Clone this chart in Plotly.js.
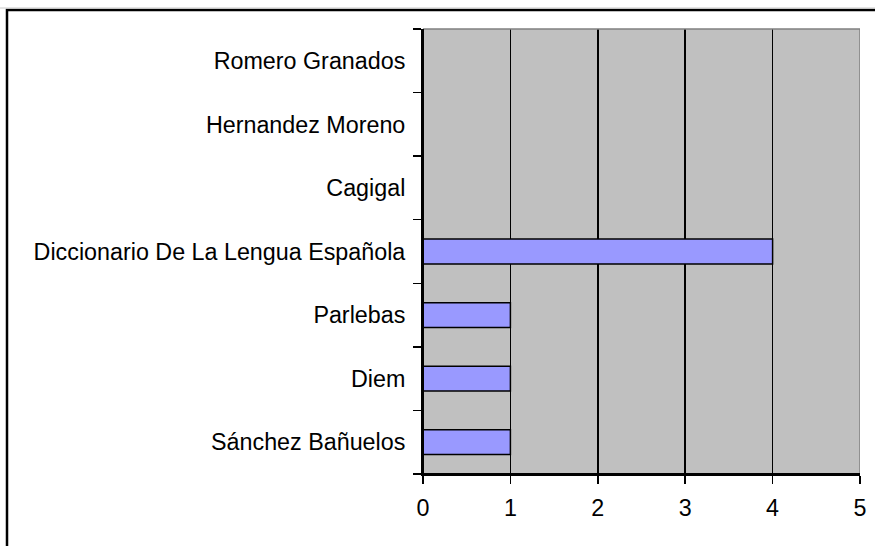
<!DOCTYPE html>
<html>
<head>
<meta charset="utf-8">
<script src="https://cdn.plot.ly/plotly-3.0.1.min.js"></script>
<style>html,body{margin:0;padding:0;background:#fff;}#chart{width:875px;height:546px;}</style>
</head>
<body>
<div id="chart"></div>
<script>
const categories = ["Sánchez Bañuelos", "Diem", "Parlebas", "Diccionario De La Lengua Española", "Cagigal", "Hernandez Moreno", "Romero Granados"];
const values = [1, 1, 1, 4, 0, 0, 0];
const xTicks = [0, 1, 2, 3, 4, 5];

const trace = {
  type: "bar",
  orientation: "h",
  x: values,
  y: categories,
  marker: { color: "#9999FF", line: { color: "#000000", width: 1.5 } },
  hoverinfo: "skip"
};

const font = { family: "Liberation Sans, Arial, sans-serif", size: 23.3, color: "#000" };

const layout = {
  width: 875,
  height: 546,
  margin: { l: 423, r: 15, t: 29, b: 72, pad: 0 },
  paper_bgcolor: "#ffffff",
  plot_bgcolor: "#C0C0C0",
  showlegend: false,
  bargap: 0.61,
  font: font,
  xaxis: {
    range: [0, 5],
    tickvals: xTicks,
    ticktext: xTicks.map(String),
    showgrid: true,
    gridcolor: "#000000",
    gridwidth: 1.5,
    zeroline: false,
    showline: true,
    linecolor: "#000000",
    linewidth: 2,
    ticks: "outside",
    ticklen: 8,
    tickwidth: 1.5,
    tickcolor: "#000000",
    ticklabelstandoff: 4,
    tickfont: font,
    fixedrange: true
  },
  yaxis: {
    type: "category",
    categoryorder: "array",
    categoryarray: categories,
    range: [-0.5, 6.5],
    tickson: "boundaries",
    showgrid: false,
    zeroline: false,
    showline: true,
    linecolor: "#000000",
    linewidth: 2,
    ticks: "outside",
    ticklen: 8,
    tickwidth: 1.5,
    tickcolor: "#000000",
    ticklabelstandoff: 11,
    tickfont: font,
    fixedrange: true
  },
  shapes: [
    { type: "rect", xref: "x", yref: "paper", x0: 0, x1: 5, y0: 0, y1: 1,
      line: { color: "#808080", width: 1.5 }, fillcolor: "rgba(0,0,0,0)", layer: "above" },
    { type: "line", xref: "paper", yref: "paper", x0: 0, x1: 0, y0: 0, y1: 1,
      line: { color: "#000000", width: 2 }, layer: "above" },
    { type: "line", xref: "paper", yref: "paper", x0: 0, x1: 1, y0: 0, y1: 0,
      line: { color: "#000000", width: 2 }, layer: "above" },
    { type: "rect", xref: "paper", yref: "paper",
      x0: -416 / 437, x1: 1.2, y0: -0.3, y1: 1 + 19 / 445,
      line: { color: "#000000", width: 2.5 }, fillcolor: "rgba(0,0,0,0)", layer: "below" },
    { type: "line", xref: "paper", yref: "paper",
      x0: -423 / 437, x1: 1.2, y0: 1 + 21 / 445, y1: 1 + 21 / 445,
      line: { color: "#C8C8C8", width: 1 }, layer: "below" }
  ]
};

Plotly.newPlot("chart", [trace], layout, { displayModeBar: false, staticPlot: true });
</script>
</body>
</html>
